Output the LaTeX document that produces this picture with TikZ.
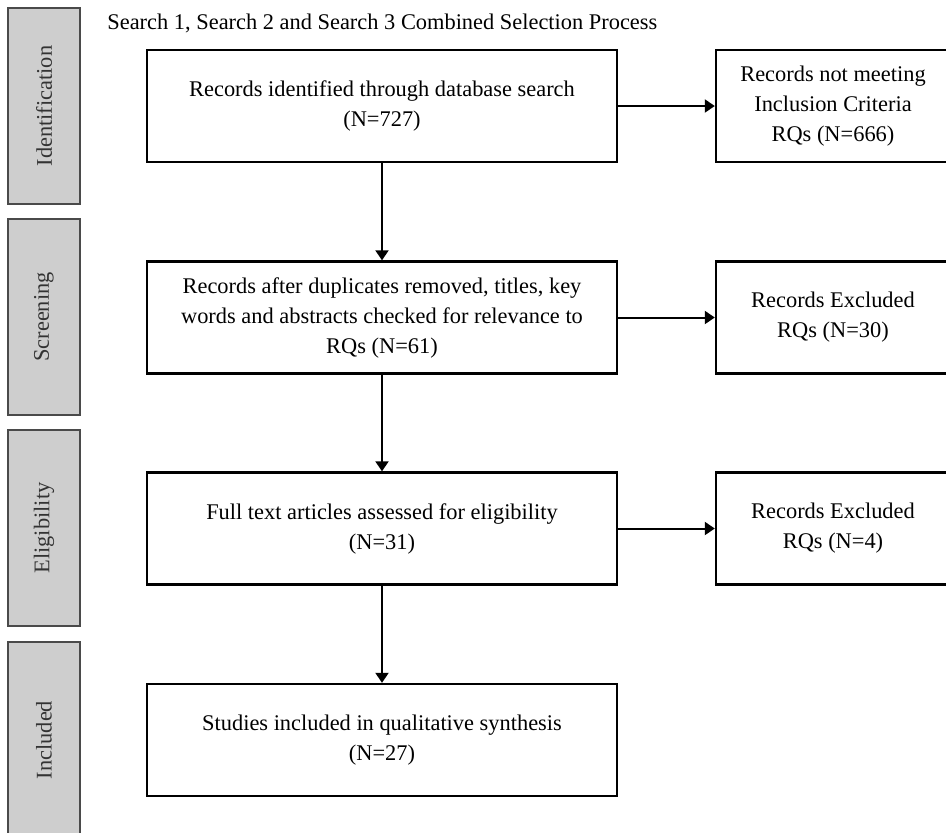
\documentclass[tikz,border=0pt]{standalone}
\usepackage{fontspec}
\setmainfont{Liberation Serif}
\usetikzlibrary{arrows.meta}

\definecolor{barfill}{HTML}{CECECE}
\definecolor{bardraw}{HTML}{4A4A4A}
\definecolor{bartext}{HTML}{333333}

\tikzset{
    stagebar/.style={draw=bardraw, fill=barfill, line width=0.8pt, minimum width=36pt, minimum height=98pt, inner sep=0pt},
    stagelabel/.style={rotate=90, text=bartext, font=\fontsize{11.2}{15}\selectfont},
    mainbox/.style={draw, line width=1.2pt, minimum width=235pt, minimum height=56pt, align=center, inner sep=0pt, font=\fontsize{11.2}{15}\selectfont},
    sidebox/.style={draw, line width=1.2pt, minimum width=117pt, minimum height=56pt, align=center, inner sep=0pt, font=\fontsize{11.2}{15}\selectfont},
    flow/.style={line width=1pt, -{Triangle[length=5pt,width=6.5pt]}}
}

\begin{document}
\begin{tikzpicture}[x=0.5pt, y=-0.5pt]
    \useasboundingbox (0,0) rectangle (946,832);

    % title
    \node[anchor=west, inner sep=0pt, font=\fontsize{11.2}{15}\selectfont] (title) at (107,23) {Search 1, Search 2 and Search 3 Combined Selection Process};

    % stage bars on the left
    \node[stagebar] (identbar) at (44,106) {};
    \node[stagelabel] (identtxt) at (identbar) {Identification};
    \node[stagebar] (screenbar) at (44,317) {};
    \node[stagelabel] (screentxt) at (screenbar) {Screening};
    \node[stagebar] (eligbar) at (44,528) {};
    \node[stagelabel] (eligtxt) at (eligbar) {Eligibility};
    \node[stagebar] (inclbar) at (44,740) {};
    \node[stagelabel] (incltxt) at (inclbar) {Included};

    % main column
    \node[mainbox] (identified) at (382,106) {Records identified through database search\\(N=727)};
    \node[mainbox] (screened) at (382,317.5) {Records after duplicates removed, titles, key\\words and abstracts checked for relevance to\\RQs (N=61)};
    \node[mainbox] (eligible) at (382,528.5) {Full text articles assessed for eligibility\\(N=31)};
    \node[mainbox] (included) at (382,740) {Studies included in qualitative synthesis\\(N=27)};

    % excluded column
    \node[sidebox] (notmeeting) at (833,106) {Records not meeting\\Inclusion Criteria\\RQs (N=666)};
    \node[sidebox] (excludedA) at (833,317.5) {Records Excluded\\RQs (N=30)};
    \node[sidebox] (excludedB) at (833,528.5) {Records Excluded\\RQs (N=4)};

    % downward arrows
    \draw[flow] (identified) -- (screened);
    \draw[flow] (screened) -- (eligible);
    \draw[flow] (eligible) -- (included);

    % arrows to the right
    \draw[flow] (identified) -- (notmeeting);
    \draw[flow] (screened) -- (excludedA);
    \draw[flow] (eligible) -- (excludedB);
\end{tikzpicture}
\end{document}
